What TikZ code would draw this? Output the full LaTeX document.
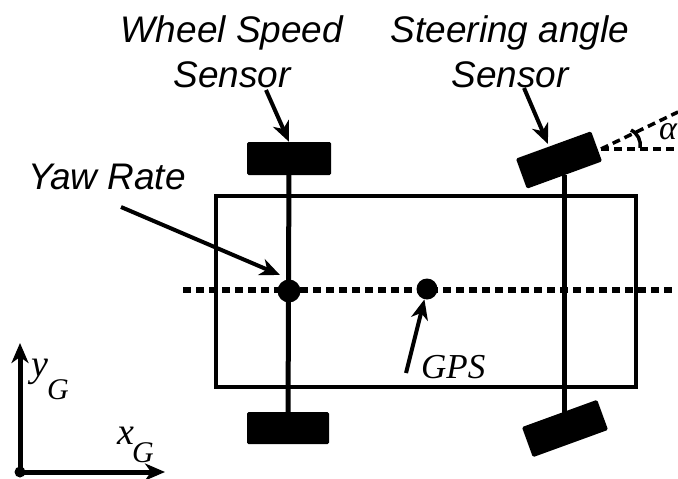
\documentclass[tikz,border=0pt]{standalone}
\usepackage{fontspec}
\setmainfont{Liberation Sans}
\newfontfamily\serifit{Liberation Serif}[ItalicFont=* Italic]
\usetikzlibrary{arrows.meta,positioning,calc}

\begin{document}
\begin{tikzpicture}[
  x=1pt, y=-1pt,
  wheel/.style={fill=black, rounded corners=1.5pt, minimum width=80pt, minimum height=32pt, inner sep=0pt},
  dot/.style={circle, fill=black, inner sep=0pt},
  arrow/.style={-{Stealth[length=20pt,width=17pt,inset=6pt]}, line width=4pt},
  axle/.style={line width=5pt},
  dotline/.style={line width=5.5pt, dash pattern=on 8pt off 5pt},
  angleline/.style={line width=3.5pt, dash pattern=on 8pt off 5pt},
  label/.style={font=\fontsize{37}{44.5}\selectfont\itshape, align=center},
  symbol/.style={font=\fontsize{38}{42}\selectfont\serifit\itshape, inner sep=0pt},
  index/.style={font=\fontsize{30}{34}\selectfont\serifit\itshape, inner sep=0pt}
]
\useasboundingbox (0,0) rectangle (678,479);

\node[draw, line width=3.8pt, minimum width=420pt, minimum height=191pt, inner sep=0pt] (body) at (426,291.5) {};

\node[wheel, minimum width=84pt, minimum height=33pt] (wheelRL) at (289,158.5) {};
\node[wheel, minimum width=82pt] (wheelRR) at (288,428) {};
\node[wheel, rotate=20] (wheelFL) at (559,160) {};
\node[wheel, rotate=20] (wheelFR) at (565,428.5) {};

\coordinate (lineL) at (183,290);
\coordinate (lineR) at (672,290);
\node[dot, minimum size=23pt] (yaw) at (289,291) {};
\node[dot, minimum size=21pt] (gps) at (427,289) {};

\draw[axle] (wheelRL) -- (wheelRR);
\draw[axle] (wheelFL.south) -- (wheelFL.south |- wheelFR.north);
\draw[dotline] (lineL) -- (lineR);

% labels
\node[label] (wheelText) at (232,52) {Wheel Speed\\Sensor};
\node[label] (steerText) at (510,52) {Steering angle\\Sensor};
\node[label, anchor=west, inner sep=0pt] (yawText) at (28,177) {Yaw Rate};
\node[symbol, anchor=west, font=\fontsize{35}{40}\selectfont\serifit\itshape] (gpsText) at (421,367) {GPS};

% sensor arrows
\coordinate (wheelTail) at (266,90);
\coordinate (steerTail) at (524,88);
\coordinate (steerTip) at (548,144);
\coordinate (yawTail) at (121,207);
\coordinate (yawTip) at (280,275);
\coordinate (gpsTail) at (406,373);
\draw[arrow] (wheelTail) -- (wheelRL.north);
\draw[arrow] (steerTail) -- (steerTip);
\draw[arrow] (yawTail) -- (yawTip);
\draw[arrow] (gpsTail) -- (gps);

% steering angle
\coordinate (steerPivot) at (601,149);
\coordinate (steerUp) at (678,112);
\coordinate (steerFlat) at (678,149);
\draw[angleline] (steerPivot) -- (steerUp);
\draw[angleline] (steerPivot) -- (steerFlat);
\draw[line width=3.5pt] (631,130) to[bend left=35] (640,148);
\node[font=\fontsize{34}{40}\selectfont\serifit\itshape, anchor=west, inner sep=0pt] (steerAlpha) at (659,132) {α};

% global axes
\node[dot, minimum size=11pt] (origin) at (20,472) {};
\coordinate (axisY) at (20,343);
\coordinate (axisX) at (165,472);
\draw[arrow, line width=5pt] (origin.center) -- (axisY);
\draw[arrow, line width=5pt] (origin.center) -- (axisX);
\node[symbol, anchor=west] (yLabel) at (31,372) {y};
\node[index, anchor=west] (yIndex) at (47,390) {G};
\node[symbol, anchor=west] (xLabel) at (117,436) {x};
\node[index, anchor=west] (xIndex) at (132,453) {G};
\end{tikzpicture}
\end{document}
